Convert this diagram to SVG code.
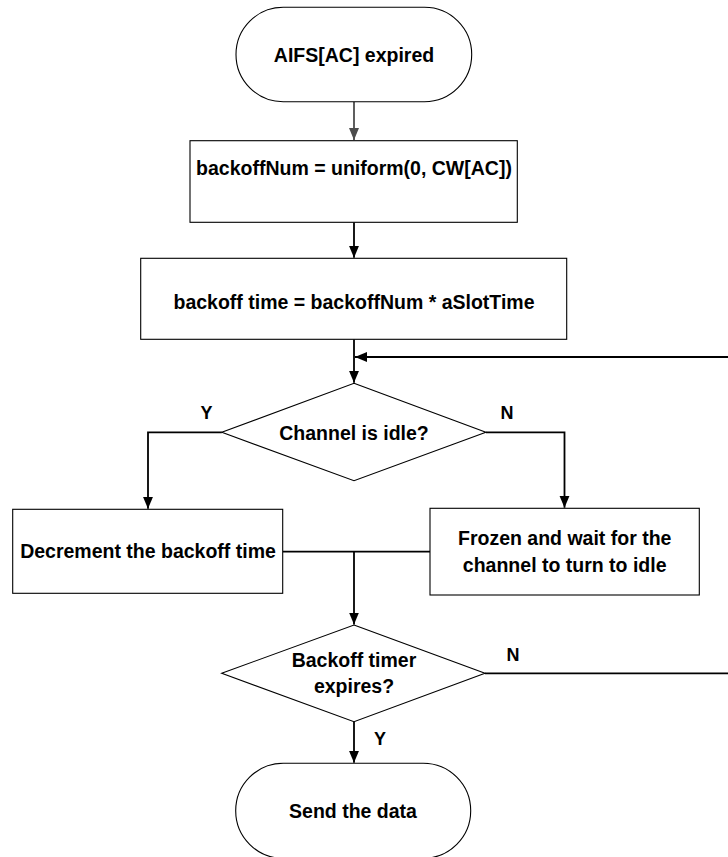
<svg xmlns="http://www.w3.org/2000/svg" width="728" height="857" viewBox="0 0 728 857">
<defs>
<style>
.shape{fill:#fff;stroke:#000;stroke-width:1.1}
.conn{fill:none;stroke:#000;stroke-width:1.8}
.conn-gray{fill:none;stroke:#4d4d4d;stroke-width:1.8}
.t{font-family:"Liberation Sans",Arial,sans-serif;font-weight:bold;font-size:19.5px;fill:#000;text-anchor:middle}
.lbl{font-family:"Liberation Sans",Arial,sans-serif;font-weight:bold;font-size:18px;fill:#000;text-anchor:middle}
</style>
<marker id="arr" markerUnits="userSpaceOnUse" markerWidth="13" markerHeight="12" refX="12" refY="6" orient="auto">
<path d="M0,1 L12,6 L0,11 Z" fill="#000"/>
</marker>
<marker id="arrg" markerUnits="userSpaceOnUse" markerWidth="13" markerHeight="12" refX="12" refY="6" orient="auto">
<path d="M0,1 L12,6 L0,11 Z" fill="#4d4d4d"/>
</marker>
</defs>
<rect width="728" height="857" fill="#fff"/>
<g id="connectors">
<path class="conn-gray" d="M354,101.7 V140" marker-end="url(#arrg)"/>
<path class="conn" d="M354,222.3 V257.8" marker-end="url(#arr)"/>
<path class="conn" d="M354,339.3 V382.8" marker-end="url(#arr)"/>
<path class="conn" d="M485,673.3 H731 V357 H355" marker-end="url(#arr)"/>
<path class="conn" d="M221.8,432.3 H148 V508.8" marker-end="url(#arr)"/>
<path class="conn" d="M485.9,432.3 H564.5 V507.8" marker-end="url(#arr)"/>
<path class="conn" d="M282.7,551.7 H430"/>
<path class="conn" d="M354,551.7 V624.5" marker-end="url(#arr)"/>
<path class="conn" d="M354,721.7 V762.8" marker-end="url(#arr)"/>
<text class="lbl" x="206.5" y="419">Y</text>
<text class="lbl" x="507" y="419">N</text>
<text class="lbl" x="513" y="661">N</text>
<text class="lbl" x="380" y="745">Y</text>
</g>
<g id="start">
<rect class="shape" x="236" y="7.3" width="235.7" height="94.4" rx="47.2" ry="47.2"/>
<text class="t" x="354" y="62">AIFS[AC] expired</text>
</g>
<g id="box1">
<rect class="shape" x="190" y="140.7" width="327.3" height="81.6"/>
<text class="t" x="354" y="175">backoffNum = uniform(0, CW[AC])</text>
</g>
<g id="box2">
<rect class="shape" x="140.7" y="258.3" width="426" height="81"/>
<text class="t" x="354" y="309">backoff time = backoffNum * aSlotTime</text>
</g>
<g id="decision1">
<polygon class="shape" points="354,383.3 485.9,432.3 354,480.7 221.8,432.3"/>
<text class="t" x="354" y="440">Channel is idle?</text>
</g>
<g id="decrement">
<rect class="shape" x="12.7" y="509.3" width="270" height="84"/>
<text class="t" x="148" y="558">Decrement the backoff time</text>
</g>
<g id="frozen">
<rect class="shape" x="430" y="508.3" width="269.3" height="86.7"/>
<text class="t" x="564.7" y="545">Frozen and wait for the</text>
<text class="t" x="564.7" y="572">channel to turn to idle</text>
</g>
<g id="decision2">
<polygon class="shape" points="354,625 485,673.3 354,721.7 221.7,673.3"/>
<text class="t" x="354" y="667">Backoff timer</text>
<text class="t" x="354" y="693">expires?</text>
</g>
<g id="end">
<rect class="shape" x="235.7" y="763.3" width="235" height="95" rx="47.5" ry="47.5"/>
<text class="t" x="353" y="817.7">Send the data</text>
</g>
</svg>
